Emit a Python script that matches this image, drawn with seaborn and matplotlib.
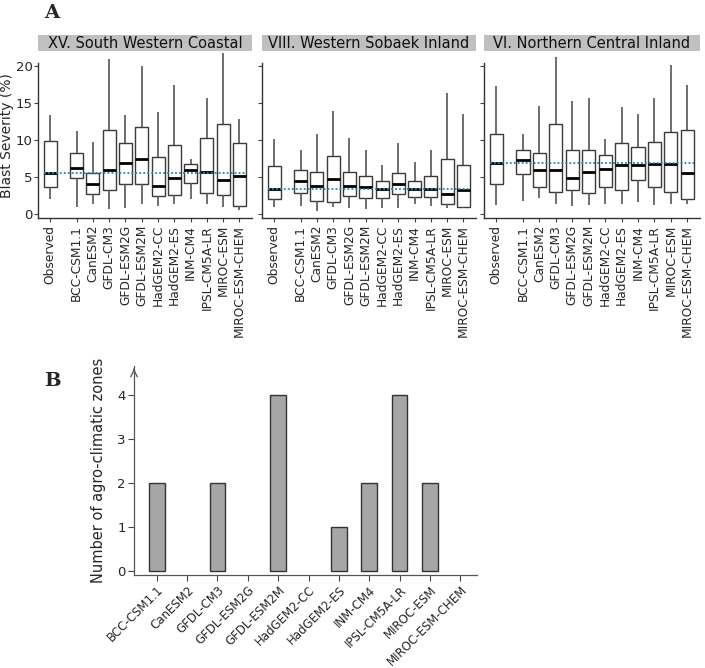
import numpy as np
import pandas as pd
import matplotlib
matplotlib.use("Agg")
import matplotlib.pyplot as plt
from matplotlib.patches import Rectangle
import seaborn as sns

sns.set_theme(style="ticks")
plt.rcParams['font.family'] = ['DejaVu Sans']

# ---------------- data ----------------
groups = ['Observed', 'BCC-CSM1.1', 'CanESM2', 'GFDL-CM3', 'GFDL-ESM2G', 'GFDL-ESM2M',
          'HadGEM2-CC', 'HadGEM2-ES', 'INM-CM4', 'IPSL-CM5A-LR', 'MIROC-ESM', 'MIROC-ESM-CHEM']
zone_titles = ['XV. South Western Coastal', 'VIII. Western Sobaek Inland', 'VI. Northern Central Inland']

# five-number summaries per group: (min, Q1, median, Q3, max)
south_western_coastal = [
    [2.0, 3.7, 5.5, 9.8, 13.4], [1.0, 4.8, 6.2, 8.2, 11.2], [1.3, 2.7, 4.0, 5.5, 9.7],
    [0.7, 3.2, 5.9, 11.3, 20.9], [0.8, 4.1, 6.9, 9.6, 13.4], [1.4, 4.0, 7.4, 11.8, 20.0],
    [1.1, 2.4, 3.8, 7.7, 13.8], [1.3, 2.6, 4.8, 9.3, 17.4], [2.0, 4.2, 5.9, 6.8, 7.4],
    [1.4, 2.9, 5.7, 10.3, 15.7], [1.0, 2.6, 4.6, 12.2, 21.8], [0.6, 1.1, 5.1, 9.6, 12.8]]
western_sobaek_inland = [
    [1.0, 2.0, 3.4, 6.5, 10.2], [1.1, 2.9, 4.5, 6.0, 8.7], [0.4, 1.8, 3.8, 5.7, 10.8],
    [0.9, 1.6, 4.7, 7.9, 13.9], [0.8, 2.4, 3.8, 5.7, 10.3], [0.7, 2.1, 3.6, 5.1, 8.7],
    [0.8, 2.1, 3.4, 4.4, 6.6], [0.8, 2.7, 4.0, 5.6, 9.6], [1.4, 2.3, 3.4, 4.4, 7.0],
    [1.1, 2.3, 3.4, 5.1, 8.6], [0.8, 1.4, 2.7, 7.5, 16.3], [0.8, 0.9, 3.3, 6.6, 13.5]]
northern_central_inland = [
    [1.2, 4.0, 6.9, 10.8, 17.3], [1.8, 5.4, 7.3, 8.7, 10.8], [2.2, 3.6, 5.9, 8.3, 14.6],
    [1.4, 3.0, 5.9, 12.2, 21.2], [1.1, 3.2, 4.8, 8.7, 15.3], [1.2, 2.9, 5.7, 8.7, 15.7],
    [1.4, 3.7, 6.1, 8.0, 10.2], [1.4, 3.3, 6.6, 9.6, 14.5], [1.6, 4.6, 6.6, 9.1, 13.5],
    [1.2, 3.6, 6.7, 9.7, 15.7], [1.4, 3.0, 6.8, 11.1, 20.1], [1.4, 2.0, 5.6, 11.3, 17.4]]
zone_stats = [south_western_coastal, western_sobaek_inland, northern_central_inland]

models = groups[1:]
zone_counts = [2, 0, 2, 0, 4, 0, 1, 2, 4, 2, 0]

# ---------------- layout ----------------
W, H = 705, 668
fig = plt.figure(figsize=(W / 100, H / 100), dpi=100)


def px(x0, y0, x1, y1):
    return [x0 / W, 1 - y1 / H, (x1 - x0) / W, (y1 - y0) / H]


positions = [0.0] + [1.64 + i for i in range(len(models))]
facet_px = [(38, 252), (262, 476), (484, 700)]
line_col = '#3a3a3a'

for k, (title, stats) in enumerate(zip(zone_titles, zone_stats)):
    ax = fig.add_axes(px(facet_px[k][0], 53, facet_px[k][1], 218))
    rows = [(p, v) for p, s in zip(positions, stats) for v in s]
    df = pd.DataFrame(rows, columns=['pos', 'severity'])
    sns.boxplot(data=df, x='pos', y='severity', native_scale=True, whis=(0, 100),
                width=0.8, color='white', linecolor=line_col, linewidth=1.0,
                showcaps=False, ax=ax,
                medianprops=dict(color='black', linewidth=2.0),
                whiskerprops=dict(color='#555555', linewidth=1.2))
    obs_med = stats[0][2]
    ax.hlines(obs_med, positions[0] - 0.4, positions[-1] + 0.4, colors='#2f7fb0',
              linestyles=(0, (1, 1.2)), linewidth=1.3, zorder=5)
    ax.set_xlim(-0.74, positions[-1] + 0.78)
    ax.set_ylim(-0.54, 21.76)
    ax.set_xticks(positions)
    ax.set_xticklabels(groups, rotation=90, fontsize=8.8)
    ax.set_yticks([0, 5, 10, 15, 20])
    ax.set_xlabel('')
    ax.set_ylabel('')
    ax.tick_params(length=3, width=0.8, color='#444444', pad=2)
    for s in ['top', 'right']:
        ax.spines[s].set_visible(False)
    ax.spines['left'].set_bounds(-0.54, 20.4)
    for s in ['left', 'bottom']:
        ax.spines[s].set_color('#333333')
        ax.spines[s].set_linewidth(1.0)
    if k == 0:
        ax.tick_params(axis='y', labelsize=9.5, pad=1)
        ax.set_ylabel('Blast Severity (%)', fontsize=10, labelpad=1)
    else:
        ax.set_yticklabels([])
    ax.add_patch(Rectangle((0, 1.01), 1, 0.097, transform=ax.transAxes,
                           facecolor='#c0c0c0', edgecolor='none', clip_on=False))
    ax.text(0.5, 1.01 + 0.0485, title, transform=ax.transAxes, ha='center', va='center',
            fontsize=10.5, color='#111111')

fig.text(44 / W, 1 - 13 / H, 'A', fontsize=14, fontweight='bold',
         family='DejaVu Serif', ha='left', va='center')

# ---------------- panel B ----------------
axb = fig.add_axes(px(134, 366, 477, 575))
bdf = pd.DataFrame({'model': models, 'count': zone_counts})
sns.barplot(data=bdf, x='model', y='count', order=models, color='#a6a6a6',
            edgecolor='#333333', linewidth=1.0, width=0.52, saturation=1, ax=axb)
# empty categories carry no outline
for bar in axb.patches:
    if bar.get_height() == 0:
        bar.set_linewidth(0)
axb.set_xlim(-0.75, len(models) - 0.45)
axb.set_ylim(-0.09, 4.66)
axb.set_yticks([0, 1, 2, 3, 4])
axb.set_xticks(range(len(models)))
axb.set_xticklabels(models, rotation=45, ha='right', rotation_mode='anchor', fontsize=8.5)
axb.tick_params(axis='y', labelsize=9.5, length=4, width=0.8, color='#444444', pad=2)
axb.tick_params(axis='x', length=4, width=0.8, color='#444444', pad=2)
axb.set_xlabel('')
axb.set_ylabel('Number of agro-climatic zones', fontsize=10.5, labelpad=8)
for s in ['top', 'right']:
    axb.spines[s].set_visible(False)
for s in ['left', 'bottom']:
    axb.spines[s].set_color('#555555')
    axb.spines[s].set_linewidth(0.9)
axb.annotate('', xy=(0, 1.0), xytext=(0, 0.97), xycoords='axes fraction',
             arrowprops=dict(arrowstyle='->', color='#555555', lw=0.9,
                             mutation_scale=12), annotation_clip=False)

fig.text(44 / W, 1 - 381 / H, 'B', fontsize=14, fontweight='bold',
         family='DejaVu Serif', ha='left', va='center')

fig.savefig('out.png', dpi=100, facecolor='white')
